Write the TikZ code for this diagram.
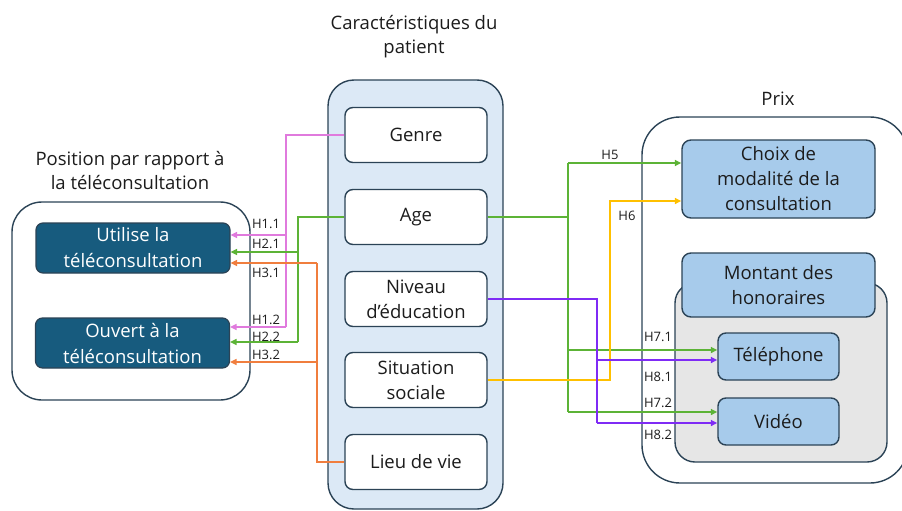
\documentclass[tikz,border=0pt]{standalone}
\usepackage{fontspec}
\setmainfont{Open Sans}
\usetikzlibrary{arrows.meta}

\definecolor{edgec}{HTML}{2B4356}
\definecolor{tealbox}{HTML}{175B7E}
\definecolor{midfill}{HTML}{DCE9F6}
\definecolor{lightblue}{HTML}{A7CBEB}
\definecolor{greyfill}{HTML}{E6E6E6}
\definecolor{textc}{HTML}{1C1C1C}
\definecolor{pinkc}{HTML}{E07ADD}
\definecolor{greenc}{HTML}{5CB336}
\definecolor{orangec}{HTML}{F07E3E}
\definecolor{yellowc}{HTML}{FFC000}
\definecolor{purplec}{HTML}{7F2BF5}

\tikzset{
  cont/.style={draw=edgec, line width=1.4pt, inner sep=0pt},
  wbox/.style={draw=edgec, line width=1.4pt, fill=white, rounded corners=8pt,
    minimum width=142pt, minimum height=55pt, inner sep=0pt, align=center,
    text=textc, font=\fontsize{18.5}{25}\selectfont},
  tbox/.style={draw=edgec, line width=1.2pt, fill=tealbox, rounded corners=7pt,
    minimum width=194pt, minimum height=50pt, inner sep=0pt, align=center,
    text=white, font=\fontsize{18.5}{26}\selectfont},
  bbox/.style={draw=edgec, line width=1.4pt, fill=lightblue, rounded corners=9pt,
    inner sep=0pt, align=center, text=textc, font=\fontsize{18.5}{25}\selectfont},
  ttl/.style={align=center, text=textc, font=\fontsize{18.5}{24}\selectfont},
  hlab/.style={text=textc, font=\fontsize{13}{15}\selectfont, inner sep=0pt},
  conn/.style={line width=1.5pt},
  arr/.style={-{Triangle[length=6.5pt,width=6pt]}},
}

\begin{document}
\begin{tikzpicture}[x=1pt,y=-1pt]
\useasboundingbox (0,0) rectangle (902,511);
\clip (0,0) rectangle (902,511);

% --- containers ---
\node[cont, fill=white, rounded corners=30pt, minimum width=238pt, minimum height=198pt]
  (posbox) at (131,301) {};
\node[cont, fill=midfill, rounded corners=26pt, minimum width=175pt, minimum height=429pt]
  (patbox) at (415.5,294.5) {};
\node[cont, fill=white, rounded corners=38pt, minimum width=266pt, minimum height=366pt]
  (prixbox) at (775,300) {};
\node[cont, fill=greyfill, rounded corners=20pt, minimum width=212pt, minimum height=179pt]
  (montgrey) at (781,372.5) {};

% --- titles ---
\node[ttl] (tpat) at (414,37) {Caractéristiques du\\patient};
\node[ttl] (tpos) at (130,171) {Position par rapport à\\la téléconsultation};
\node[ttl] (tprix) at (778,99) {Prix};

% --- patient characteristics ---
\node[wbox] (genre) at (416,135) {Genre};
\node[wbox] (age) at (416,217) {Age};
\node[wbox] (niveau) at (416,299) {Niveau\\d’éducation};
\node[wbox] (situation) at (416,380) {Situation\\sociale};
\node[wbox] (lieu) at (416,462) {Lieu de vie};

% --- outcomes on the left ---
\node[tbox] (utilise) at (133,248) {Utilise la\\téléconsultation};
\node[tbox] (ouvert) at (132.5,343) {Ouvert à la\\téléconsultation};

% --- price side ---
\node[bbox, minimum width=193pt, minimum height=78pt] (choix) at (778.5,179)
  {Choix de\\modalité de la\\consultation};
\node[bbox, minimum width=193pt, minimum height=64pt] (montant) at (778.5,285)
  {Montant des\\honoraires};
\node[bbox, rounded corners=8pt, minimum width=121pt, minimum height=47pt] (tel) at (778.5,356.5)
  {Téléphone};
\node[bbox, rounded corners=8pt, minimum width=121pt, minimum height=47pt] (video) at (778.5,421.5)
  {Vidéo};

% --- junction points ---
\coordinate (pj1) at (286,235);
\coordinate (pj2) at (286,327);
\coordinate (gj1) at (298,252);
\coordinate (gj2) at (298,342);
\coordinate (oj1) at (317,263);
\coordinate (oj2) at (317,362);
\coordinate (gr5) at (568,163);
\coordinate (gr71) at (568,350);
\coordinate (gr72) at (568,412);
\coordinate (yj) at (610,201);
\coordinate (vj1) at (597,360);
\coordinate (vj2) at (597,423);

% --- left connectors ---
\draw[conn, pinkc] (genre.west) -| (pj2);
\draw[conn, pinkc, arr] (pj1) -- (utilise.east |- pj1);
\draw[conn, pinkc, arr] (pj2) -- (ouvert.east |- pj2);

\draw[conn, greenc] (age.west) -| (gj2);
\draw[conn, greenc, arr] (gj1) -- (utilise.east |- gj1);
\draw[conn, greenc, arr] (gj2) -- (ouvert.east |- gj2);

\draw[conn, orangec] (lieu.west) -| (oj1);
\draw[conn, orangec, arr] (oj1) -- (utilise.east |- oj1);
\draw[conn, orangec, arr] (oj2) -- (ouvert.east |- oj2);

% --- right connectors ---
\draw[conn, greenc] (age.east) -- (age.east -| gr5);
\draw[conn, greenc] (gr5) -- (gr72);
\draw[conn, greenc, arr] (gr5) -- (choix.west |- gr5);
\draw[conn, greenc, arr] (gr71) -- (tel.west |- gr71);
\draw[conn, greenc, arr] (gr72) -- (video.west |- gr72);

\draw[conn, yellowc, arr] (situation.east) -| (yj) -- (choix.west |- yj);

\draw[conn, purplec] (niveau.east) -| (vj2);
\draw[conn, purplec, arr] (vj1) -- (tel.west |- vj1);
\draw[conn, purplec, arr] (vj2) -- (video.west |- vj2);

% --- hypothesis labels ---
\node[hlab] (h11) at (266,224) {H1.1};
\node[hlab] (h21) at (266,244) {H2.1};
\node[hlab] (h31) at (266,273) {H3.1};
\node[hlab] (h12) at (266,320) {H1.2};
\node[hlab] (h22) at (266,337) {H2.2};
\node[hlab] (h32) at (266,355) {H3.2};
\node[hlab] (h5) at (610,155) {H5};
\node[hlab] (h6) at (627,216) {H6};
\node[hlab] (h71) at (658,337) {H7.1};
\node[hlab] (h81) at (658,377) {H8.1};
\node[hlab] (h72) at (658,403) {H7.2};
\node[hlab] (h82) at (658,435) {H8.2};
\end{tikzpicture}
\end{document}
